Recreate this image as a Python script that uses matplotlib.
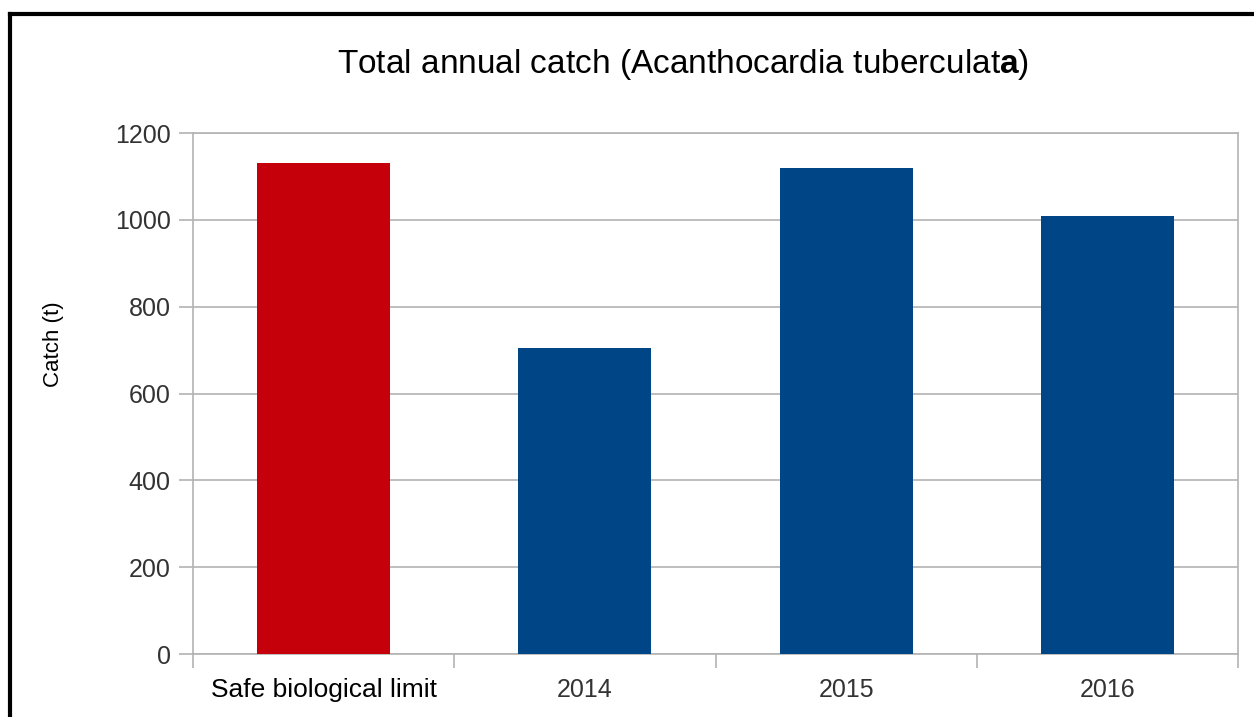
import matplotlib
matplotlib.use("Agg")
import matplotlib.pyplot as plt
from matplotlib.lines import Line2D

categories = ["Safe biological limit", "2014", "2015", "2016"]
values = [1132, 705, 1119, 1009]
bar_colors = ["#C5000B", "#004586", "#004586", "#004586"]
y_ticks = [0, 200, 400, 600, 800, 1000, 1200]

plt.rcParams['font.family'] = ['Liberation Sans', 'DejaVu Sans']
plt.rcParams['mathtext.fontset'] = 'custom'
plt.rcParams['mathtext.rm'] = 'Liberation Sans'
plt.rcParams['mathtext.bf'] = 'Liberation Sans:bold'

W, H = 1254, 717
fig = plt.figure(figsize=(W / 100, H / 100), dpi=100)
L, R, T, B = 193, 1238, 133, 654
ax = fig.add_axes([L / W, 1 - B / H, (R - L) / W, (B - T) / H])

x = list(range(len(categories)))
ax.bar(x, values, width=0.51, color=bar_colors, zorder=3)
ax.set_xlim(-0.5, len(categories) - 0.5)
ax.set_ylim(0, 1200)
ax.set_yticks(y_ticks)
ax.set_yticklabels([str(v) for v in y_ticks], fontsize=18, color="#333333")
ax.yaxis.grid(True, color="#b3b3b3", linewidth=1.2, zorder=0)

ax.set_xticks(x)
ax.set_xticklabels(categories, fontsize=18, color="#333333")
ax.get_xticklabels()[0].set_color("black")
ax.get_xticklabels()[0].set_fontsize(19)
ax.tick_params(axis='x', length=0, pad=17)
ax.tick_params(axis='y', length=10, width=1.2, color="#b3b3b3", pad=6)

# boundary tick marks on x axis
ax.set_xticks([i - 0.5 for i in range(len(categories) + 1)], minor=True)
ax.tick_params(axis='x', which='minor', length=10, width=1.2, color="#b3b3b3")

for s in ax.spines.values():
    s.set_color("#b3b3b3")
    s.set_linewidth(1.2)

fig.text(53 / W, 1 - 344 / H, "Catch (t)", rotation=90, ha="center", va="center",
         fontsize=16, color="black")

fig.text(683 / W, 1 - 64 / H,
         r"Total annual catch (Acanthocardia tuberculat$\mathbf{a}$)",
         ha="center", va="center", fontsize=24, color="black")

# outer frame (top and left visible)
fig.add_artist(Line2D([10 / W, 10 / W], [0, 1 - 14 / H], transform=fig.transFigure,
                      color="black", linewidth=3))
fig.add_artist(Line2D([10 / W, 1], [1 - 14 / H, 1 - 14 / H], transform=fig.transFigure,
                      color="black", linewidth=3))

fig.savefig("out.png", dpi=100, facecolor="white")
